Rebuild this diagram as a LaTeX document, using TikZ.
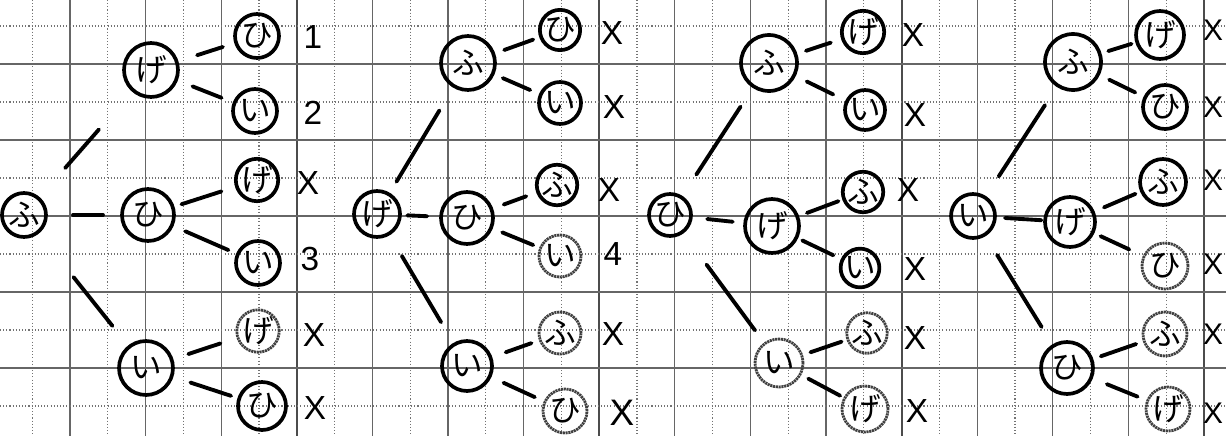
\documentclass[tikz,border=0pt]{standalone}
\usepackage{fontspec}
\setmainfont{Liberation Sans}
\newfontfamily\jp{Noto Sans CJK JP}
\usetikzlibrary{calc}
\tikzset{
 nd/.style={circle, draw=black, line width=2.1pt, inner sep=0pt, minimum size={#1*0.04cm}, font=\jp\fontsize{18}{18}\selectfont},
 fnd/.style={nd=#1, draw=black!75, line width=1.6pt, dash pattern=on 1.2pt off 0.4pt},
 lbl/.style={font=\fontsize{19}{19}\selectfont, inner sep=0pt},
 rlbl/.style={font=\fontsize{17}{17}\selectfont, inner sep=0pt},
 conline/.style={line width=2.2pt, line cap=round},
 gsolid/.style={black!60, line width=0.6pt},
 gthick/.style={black!70, line width=1pt},
 gdot/.style={black!55, line width=0.6pt, dash pattern=on 0.6pt off 1.2pt},
}
\newcommand\conn[4]{\draw[conline] ($(#1)!#3!(#2)$) -- ($(#1)!#4!(#2)$);}
\begin{document}
\begin{tikzpicture}[x=0.02cm, y=-0.02cm]
\useasboundingbox (0,0) rectangle (1226,436);
\fill[white] (0,0) rectangle (1226,436);
% grid paper
\foreach \k in {0,...,15} {
  \draw[gdot] ({32.2+75.6*\k},0) -- ({32.2+75.6*\k},436);
  \draw[gsolid] ({70+75.6*\k},0) -- ({70+75.6*\k},436);
}
\foreach \x in {297,599,902,1204} \draw[gthick] (\x,0) -- (\x,436);
\foreach \y in {26,102,178,254,330,406} \draw[gdot] (0,\y) -- (1226,\y);
\foreach \y in {64,140,216,292,368} \draw[gsolid] (0,\y) -- (1226,\y);

% ---------- tree 1 ----------
\node[nd=22] (r1) at (24,215) {ふ};
\node[nd=27] (g1) at (151,70) {げ};
\node[nd=26] (h1) at (148,215) {ひ};
\node[nd=27] (i1) at (146,368) {い};
\node[nd=22] (g1h) at (257,36) {ひ};
\node[nd=22] (g1i) at (255,111) {い};
\node[nd=20] (h1g) at (257,180) {げ};
\node[nd=22] (h1i) at (258,263) {い};
\node[fnd=20] (i1g) at (258,331) {げ};
\node[nd=24] (i1h) at (262,406) {ひ};
\node[lbl] (l1a) at (313,37) {1};
\node[lbl] (l1b) at (313,113) {2};
\node[lbl] (l1c) at (308,183) {X};
\node[lbl] (l1d) at (310,259) {3};
\node[lbl] (l1e) at (314,335) {X};
\node[lbl] (l1f) at (315,408) {X};
\conn{r1}{g1}{0.324}{0.59}
\conn{r1}{h1}{0.395}{0.637}
\conn{r1}{i1}{0.406}{0.725}
\conn{g1}{g1h}{0.435}{0.678}
\conn{g1}{g1i}{0.399}{0.679}
\conn{h1}{h1g}{0.307}{0.674}
\conn{h1}{h1i}{0.339}{0.731}
\conn{i1}{i1g}{0.378}{0.665}
\conn{i1}{i1h}{0.383}{0.733}

% ---------- tree 2 ----------
\node[nd=23] (r2) at (377,214) {げ};
\node[nd=27] (f2) at (468,63) {ふ};
\node[nd=26] (h2) at (467,218) {ひ};
\node[nd=25] (i2) at (467,366) {い};
\node[nd=20] (f2h) at (560,30) {ひ};
\node[nd=21] (f2i) at (560,103) {い};
\node[nd=20] (h2f) at (557,185) {ふ};
\node[fnd=21] (h2i) at (560,256) {い};
\node[fnd=21] (i2f) at (560,333) {ふ};
\node[fnd=22] (i2h) at (565,411) {ひ};
\node[lbl] (l2a) at (612,33) {X};
\node[lbl] (l2b) at (614,107) {X};
\node[lbl] (l2c) at (609,190) {X};
\node[lbl] (l2d) at (613,254) {4};
\node[lbl] (l2e) at (613,334) {X};
\node[lbl,font=\fontsize{21}{21}\selectfont] (l2f) at (622,413) {X};
\conn{r2}{f2}{0.214}{0.686}
\conn{r2}{h2}{0.337}{0.558}
\conn{r2}{i2}{0.276}{0.712}
\conn{f2}{f2h}{0.394}{0.709}
\conn{f2}{f2i}{0.378}{0.676}
\conn{h2}{h2f}{0.408}{0.658}
\conn{h2}{h2i}{0.379}{0.712}
\conn{i2}{i2f}{0.416}{0.693}
\conn{i2}{i2h}{0.373}{0.692}

% ---------- tree 3 ----------
\node[nd=21] (r3) at (670,215) {ひ};
\node[nd=28] (f3) at (769,63) {ふ};
\node[nd=27] (g3) at (772,226) {げ};
\node[fnd=24] (i3) at (779,363) {い};
\node[nd=20] (f3g) at (863,32) {げ};
\node[nd=20] (f3i) at (865,110) {い};
\node[nd=20] (g3f) at (863,192) {ふ};
\node[nd=19] (g3i) at (860,268) {い};
\node[fnd=20] (i3f) at (867,333) {ふ};
\node[fnd=23] (i3g) at (865,409) {げ};
\node[lbl] (l3a) at (913,35) {X};
\node[lbl] (l3b) at (915,115) {X};
\node[lbl] (l3c) at (908,190) {X};
\node[lbl] (l3d) at (915,269) {X};
\node[lbl] (l3e) at (915,338) {X};
\node[lbl] (l3f) at (917,411) {X};
\conn{r3}{f3}{0.266}{0.713}
\conn{r3}{g3}{0.365}{0.615}
\conn{r3}{i3}{0.335}{0.779}
\conn{f3}{f3g}{0.393}{0.658}
\conn{f3}{f3i}{0.393}{0.669}
\conn{g3}{g3f}{0.384}{0.730}
\conn{g3}{g3i}{0.344}{0.697}
\conn{i3}{i3f}{0.357}{0.711}
\conn{i3}{i3g}{0.340}{0.711}

% ---------- tree 4 ----------
\node[nd=22] (r4) at (973,216) {い};
\node[nd=28] (f4) at (1073,62) {ふ};
\node[nd=25] (g4) at (1070,222) {げ};
\node[nd=26] (h4) at (1067,368) {ひ};
\node[nd=24] (f4g) at (1160,35) {げ};
\node[nd=22] (f4h) at (1165,107) {ひ};
\node[nd=23] (g4f) at (1163,182) {ふ};
\node[fnd=23] (g4h) at (1165,266) {ひ};
\node[fnd=22] (h4f) at (1165,334) {ふ};
\node[fnd=22] (h4g) at (1168,409) {げ};
\node[rlbl] (l4a) at (1213,30) {X};
\node[rlbl] (l4b) at (1213,107) {X};
\node[rlbl] (l4c) at (1213,180) {X};
\node[rlbl] (l4d) at (1213,264) {X};
\node[rlbl] (l4e) at (1213,334) {X};
\node[rlbl] (l4f) at (1213,413) {X};
\conn{r4}{f4}{0.257}{0.720}
\conn{r4}{g4}{0.330}{0.706}
\conn{r4}{h4}{0.256}{0.730}
\conn{f4}{f4g}{0.406}{0.672}
\conn{f4}{f4h}{0.393}{0.676}
\conn{g4}{g4f}{0.365}{0.704}
\conn{g4}{g4h}{0.322}{0.624}
\conn{h4}{h4f}{0.345}{0.705}
\conn{h4}{h4g}{0.395}{0.699}
\end{tikzpicture}
\end{document}
